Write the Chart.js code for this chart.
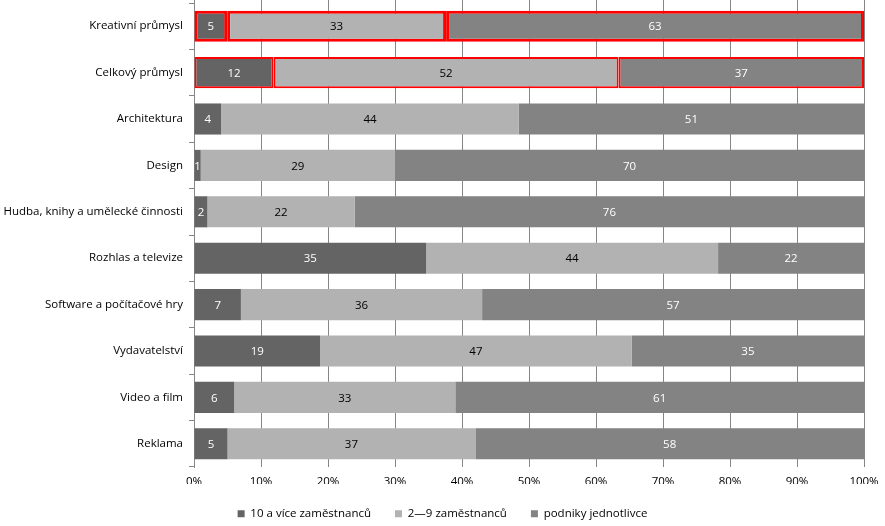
<!DOCTYPE html>
<html><head><meta charset="utf-8">
<script src="https://cdn.jsdelivr.net/npm/chart.js@4/dist/chart.umd.min.js"></script>
<style>html,body{margin:0;padding:0;background:#fff}#wrap{width:885px;height:526px}</style>
</head><body><div id="wrap"><canvas id="c" width="885" height="526"></canvas></div>
<script>
const categories = ["Kreativní průmysl","Celkový průmysl","Architektura","Design","Hudba, knihy a umělecké činnosti","Rozhlas a televize","Software a počítačové hry","Vydavatelství","Video a film","Reklama"];
const seriesNames = ["10 a více zaměstnanců","2—9 zaměstnanců","podniky jednotlivce"];
const big = [5,12,4,1,2,35,7,19,6,5];
const small = [33,52,44,29,22,44,36,47,33,37];
const single = [63,37,51,70,76,22,57,35,61,58];
const xTicks = [0,10,20,30,40,50,60,70,80,90,100];
const colors = ["#646464","#b2b2b2","#838383"];
const labelColors = ["#ffffff","#000000","#ffffff"];
const raw = [big, small, single];
const totals = categories.map((_, i) => big[i] + small[i] + single[i]);
const FONT = "'Open Sans', sans-serif";
const FS = 11.5;

const datasets = raw.map((arr, k) => ({
  label: seriesNames[k],
  data: arr.map((v, i) => v / totals[i] * 100),
  rawValues: arr,
  backgroundColor: colors[k],
  borderColor: ctx => (ctx.dataIndex <= 1 ? "#ff0000" : colors[k]),
  borderWidth: ctx => (ctx.dataIndex === 0 ? 3 : ctx.dataIndex === 1 ? 2 : 0),
  borderSkipped: false,
  categoryPercentage: 0.67,
  barPercentage: 1.0
}));

const labelPlugin = {
  id: "barLabels",
  beforeDatasetsDraw(chart) {
    const ctx = chart.ctx, xs = chart.scales.x, top = chart.chartArea.top;
    ctx.save();
    ctx.strokeStyle = "#868686"; ctx.lineWidth = 1;
    xTicks.forEach(v => {
      const x = Math.round(xs.getPixelForValue(v)) + 0.5;
      ctx.beginPath(); ctx.moveTo(x, 0); ctx.lineTo(x, top); ctx.stroke();
    });
    ctx.restore();
  },
  afterDatasetsDraw(chart) {
    const ctx = chart.ctx;
    ctx.save();
    ctx.font = FS + "px " + FONT;
    ctx.textAlign = "center";
    ctx.textBaseline = "middle";
    chart.data.datasets.forEach((ds, k) => {
      const meta = chart.getDatasetMeta(k);
      meta.data.forEach((bar, i) => {
        const x = (bar.x + bar.base) / 2;
        ctx.fillStyle = labelColors[k];
        ctx.fillText(String(ds.rawValues[i]), x, bar.y + 1);
      });
    });
    ctx.restore();
  }
};

new Chart(document.getElementById("c"), {
  type: "bar",
  data: { labels: categories, datasets },
  options: {
    indexAxis: "y",
    responsive: false,
    animation: false,
    devicePixelRatio: 1,
    layout: { padding: { top: 3, right: 0, left: 0, bottom: 0 } },
    plugins: {
      legend: {
        position: "bottom",
        maxHeight: 42,
        labels: {
          boxWidth: 7, boxHeight: 7, color: "#000", font: { size: FS, family: FONT }, padding: 24,
          generateLabels: chart => chart.data.datasets.map((ds, k) => ({
            text: ds.label, fillStyle: colors[k], strokeStyle: colors[k], lineWidth: 0,
            hidden: false, datasetIndex: k, fontColor: "#000"
          }))
        }
      },
      tooltip: { enabled: false }
    },
    scales: {
      x: {
        stacked: true, min: 0, max: 100,
        afterBuildTicks: s => { s.ticks = xTicks.map(v => ({ value: v })); },
        afterFit: s => { s.paddingRight = 21; s.height = 17; },
        ticks: { callback: v => v + "%", color: "#000", font: { size: FS, family: FONT }, padding: 8, maxRotation: 0 },
        grid: { color: "#868686", lineWidth: 1, drawTicks: false },
        border: { display: false }
      },
      y: {
        stacked: true,
        afterFit: s => { s.width = 194; s.paddingTop = 0; s.paddingBottom = 0; },
        ticks: { color: "#000", font: { size: FS, family: FONT }, padding: 6 },
        grid: { offset: true, drawOnChartArea: false, color: "#868686", tickLength: 5 },
        border: { display: true, color: "#868686" }
      }
    }
  },
  plugins: [labelPlugin]
});
</script></body></html>
